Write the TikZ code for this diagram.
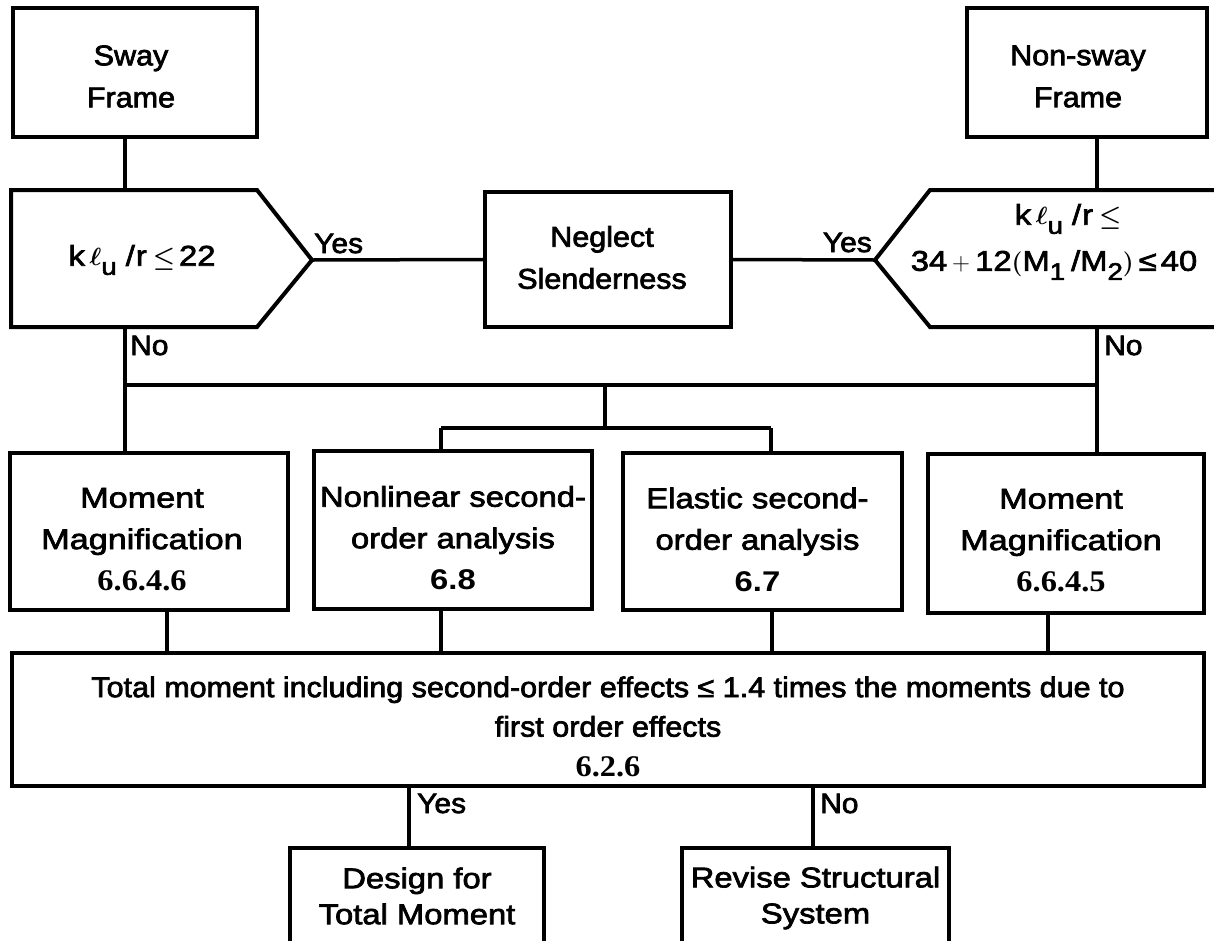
\documentclass[tikz,border=0pt]{standalone}
\usepackage{fontspec}
\setmainfont{Liberation Sans}[FakeStretch=1.07, UprightFeatures={FakeBold=2.5}]
\newfontfamily\fwide{Liberation Sans}[FakeStretch=1.15, UprightFeatures={FakeBold=2.5}]
\newfontfamily\fwider{Liberation Sans}[FakeStretch=1.2, UprightFeatures={FakeBold=2.5}]
\newfontfamily\serifb{Liberation Serif}[FakeStretch=1.08]
\newcommand\subu{\raisebox{-0.32em}{\fontsize{24}{24}\selectfont u}}
\newcommand\subn[1]{\raisebox{-0.32em}{\fontsize{24}{24}\selectfont #1}}
\newcommand\secnum[1]{{\serifb\bfseries\fontsize{30}{30}\selectfont #1}}
\newcommand\bigleq{{\boldmath\fontsize{30}{30}\selectfont$\leq$}}
\newcommand\mell{{\boldmath$\ell$}}
\begin{document}
\begin{tikzpicture}[x=1pt,y=-1pt,
  frame/.style={draw, line width=4pt, inner sep=0pt},
  dec/.style={line width=4pt, line join=miter},
  wire/.style={line width=3.5pt},
  lbl/.style={inner sep=0pt, font=\fontsize{28}{28}\selectfont},
  txt/.style={inner sep=0pt, align=center, font=\fontsize{28.5}{42}\selectfont},
  midtxt/.style={txt, font=\fwide\fontsize{28.5}{41.5}\selectfont},
  mmtxt/.style={txt, font=\fwider\fontsize{28.5}{41.5}\selectfont}]
\useasboundingbox (0,0) rectangle (1214,940);
\clip (0,0) rectangle (1214,940);

% top boxes
\node[frame, minimum width=244pt, minimum height=129pt] (sway) at (135,72.5) {};
\node[txt, xshift=-4pt, yshift=-4pt] (swayt) at (sway) {Sway\\Frame};
\node[frame, minimum width=240pt, minimum height=129pt] (nonsway) at (1087,72.5) {};
\node[txt, xshift=-9pt, yshift=-4pt] (nonswayt) at (nonsway) {Non-sway\\Frame};
\node[frame, minimum width=246pt, minimum height=135pt] (neglect) at (608,259.5) {};
\node[txt, xshift=-6pt, yshift=2pt] (neglectt) at (neglect) {Neglect\\Slenderness};

% decisions
\coordinate (L1) at (11,190); \coordinate (L2) at (257,190);
\coordinate (Ltip) at (312,260);
\coordinate (L3) at (257,327); \coordinate (L4) at (11,327);
\draw[dec] (L1) -- (L2) -- (Ltip) -- (L3) -- (L4) -- cycle;
\coordinate (R1) at (1222,190); \coordinate (R2) at (930,190);
\coordinate (Rtip) at (875,260);
\coordinate (R3) at (930,327); \coordinate (R4) at (1222,327);
\draw[dec] (R1) -- (R2) -- (Rtip) -- (R3) -- (R4);
\node[txt, font=\fwide\fontsize{28.5}{42}\selectfont] (ldtext) at (142,260)
  {k\,\mell\subu\hspace{9pt}/\hspace{1pt}r\hspace{6pt}\bigleq\hspace{4pt}22};
\node[txt, font=\fwide\fontsize{28.5}{42}\selectfont] (rdtext1) at (1068,219)
  {k\,\mell\subu\hspace{9pt}/\hspace{1pt}r\hspace{6pt}\bigleq};
\node[txt, font=\fwide\fontsize{28.5}{42}\selectfont] (rdtext2) at (1054,265)
  {34\hspace{5pt}{\fontsize{40}{40}\selectfont$+$}\hspace{5pt}12{\boldmath\fontsize{33}{33}\selectfont$($}M\subn{1}\hspace{6pt}/M\subn{2}{\boldmath\fontsize{33}{33}\selectfont$)$}\hspace{5pt}≤\hspace{4pt}40};

% middle row
\node[frame, minimum width=278pt, minimum height=157pt] (mmL) at (149,531.5) {};
\node[mmtxt, xshift=-7pt, yshift=-8pt] (mmLt) at (mmL) {Moment\\Magnification\\\secnum{6.6.4.6}};
\node[frame, minimum width=278pt, minimum height=158pt] (nonlin) at (453,530) {};
\node[midtxt, yshift=-8pt] (nonlint) at (nonlin) {Nonlinear second-\\order analysis\\{\bfseries 6.8}};
\node[frame, minimum width=279pt, minimum height=157pt] (elastic) at (762.5,531.5) {};
\node[midtxt, xshift=-5pt, yshift=-8pt] (elastict) at (elastic) {Elastic second-\\order analysis\\{\bfseries 6.7}};
\node[frame, minimum width=276pt, minimum height=159pt] (mmR) at (1066,533.5) {};
\node[mmtxt, xshift=-5pt, yshift=-7pt] (mmRt) at (mmR) {Moment\\Magnification\\\secnum{6.6.4.5}};

% total box
\node[frame, minimum width=1192pt, minimum height=133pt] (total) at (608,719.5) {};
\node[txt, yshift=-7pt, font=\fontsize{28.5}{39.5}\selectfont] (totalt) at (total)
  {Total moment including second-order effects ≤ 1.4 times the moments due to\\first order effects\\\secnum{6.2.6}};

% bottom boxes (cut by the lower edge)
\node[frame, minimum width=254pt, minimum height=96pt] (design) at (417,896) {};
\node[midtxt, font=\fwide\fontsize{28.5}{36}\selectfont] (designt) at (design) {Design for\\Total Moment};
\node[frame, minimum width=267pt, minimum height=96pt] (revise) at (815.5,896) {};
\node[midtxt, yshift=-2pt, font=\fwide\fontsize{28.5}{36}\selectfont] (reviset) at (revise) {Revise Structural\\System};

% connectors top
\coordinate (ltop) at (125,190);
\coordinate (rtop) at (1097,190);
\draw[wire] (sway.south -| ltop) -- (ltop);
\draw[wire] (nonsway.south -| rtop) -- (rtop);
\draw[wire] (Ltip) -- (neglect.west);
\draw[wire] (neglect.east) -- (Rtip);

% buses
\coordinate (lbus) at (125,385);
\coordinate (rbus) at (1097,385);
\coordinate (cbus) at (605,385);
\coordinate (csub) at (605,428);
\coordinate (sub1) at (441,428);
\coordinate (sub2) at (771,428);
\draw[wire] (ltop |- L4) -- (lbus) -- (mmL.north -| lbus);
\draw[wire] (rtop |- R4) -- (rbus) -- (mmR.north -| rbus);
\draw[wire] (lbus) -- (rbus);
\draw[wire] (cbus) -- (csub);
\draw[wire] (sub1) -- (sub2);
\draw[wire] (sub1) -- (nonlin.north -| sub1);
\draw[wire] (sub2) -- (elastic.north -| sub2);

% to total
\coordinate (b1) at (167,640);
\coordinate (b2) at (441,640);
\coordinate (b3) at (772,640);
\coordinate (b4) at (1048,640);
\draw[wire] (mmL.south -| b1) -- (total.north -| b1);
\draw[wire] (nonlin.south -| b2) -- (total.north -| b2);
\draw[wire] (elastic.south -| b3) -- (total.north -| b3);
\draw[wire] (mmR.south -| b4) -- (total.north -| b4);

% outcome
\coordinate (yb) at (409,820);
\coordinate (nb) at (813,820);
\draw[wire] (total.south -| yb) -- (design.north -| yb);
\draw[wire] (total.south -| nb) -- (revise.north -| nb);

% labels
\node[lbl, anchor=base west] (yesL) at (314,253) {Yes};
\node[lbl, anchor=base east] (yesR) at (872,252) {Yes};
\node[lbl, anchor=base west] (noL) at (130,355) {No};
\node[lbl, anchor=base west] (noR) at (1104,355) {No};
\node[lbl, anchor=base west] (yesB) at (417,813) {Yes};
\node[lbl, anchor=base west] (noB) at (820,813) {No};
\end{tikzpicture}
\end{document}
